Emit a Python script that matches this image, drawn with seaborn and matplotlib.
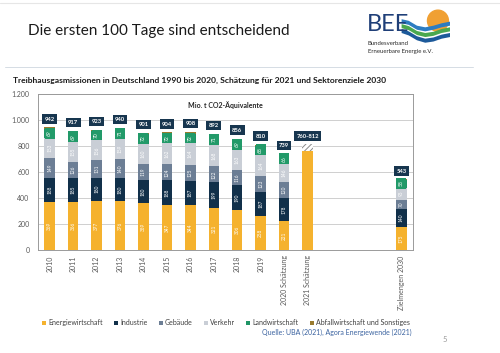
#!/usr/bin/env python3

import numpy as np
import pandas as pd
from matplotlib import pyplot as plt
from matplotlib.patches import Patch, Ellipse
import seaborn as sns

# Werte in Mio. t CO2-Aequivalente
years = ['2010', '2011', '2012', '2013', '2014', '2015', '2016', '2017', '2018', '2019',
         '2020 Schätzung', '2021 Schätzung', 'Zielmengen 2030']
energie = [369, 366, 377, 376, 359, 347, 344, 321, 306, 258, 221, 760, 175]
industrie = [188, 185, 180, 180, 180, 188, 187, 199, 190, 187, 178, 0, 140]
gebaeude = [149, 126, 131, 140, 119, 124, 125, 122, 116, 123, 120, 0, 70]
verkehr = [153, 155, 156, 159, 160, 162, 164, 168, 163, 164, 146, 0, 95]
landwirtschaft = [69, 69, 70, 71, 72, 72, 72, 71, 69, 68, 66, 0, 58]
abfall = [14, 16, 9, 14, 11, 11, 16, 11, 12, 10, 8, 0, 5]
totals = [942, 917, 923, 940, 901, 904, 908, 892, 856, 810, 739, None, 543]
est_2021_low = 760
est_2021_high = 812

sectors = ['Energiewirtschaft', 'Industrie', 'Gebäude', 'Verkehr',
           'Landwirtschaft', 'Abfallwirtschaft und Sonstiges']
colors = ['#F5B22E', '#11304A', '#6C7E95', '#C9CED6', '#1F9566', '#9A7B2E']

# Kategorien inkl. drei leerer Plaetze vor 2030
slots = years[:12] + ['_a', '_b', '_c'] + years[12:]

df = pd.DataFrame({
    'jahr': years,
    'Energiewirtschaft': energie,
    'Industrie': industrie,
    'Gebäude': gebaeude,
    'Verkehr': verkehr,
    'Landwirtschaft': landwirtschaft,
    'Abfallwirtschaft und Sonstiges': abfall,
})
cum = df[sectors].cumsum(axis=1)
bottoms = cum - df[sectors]

sns.set_style('white')
plt.rcParams['font.family'] = ['Lato', 'DejaVu Sans']
plt.rcParams['hatch.linewidth'] = 0.7

fig = plt.figure(figsize=(5, 3.53), dpi=100)
ax = fig.add_axes([0.076, 0.292, 0.75, 0.442])

# gestapelte Balken: kumulierte Summen von oben nach unten uebermalen
for sec, col in reversed(list(zip(sectors, colors))):
    plot_df = pd.DataFrame({'jahr': df['jahr'], 'wert': cum[sec]})
    sns.barplot(data=plot_df, x='jahr', y='wert', order=slots, color=col,
                saturation=1, width=0.45, errorbar=None, linewidth=0,
                edgecolor='none', ax=ax)

# Schaetzspanne 2021
i21 = slots.index('2021 Schätzung')
ax.bar(i21, est_2021_high - est_2021_low, bottom=est_2021_low, width=0.45,
       color='white', hatch='//////', edgecolor='#8a8a8a', linewidth=0, zorder=2)

box_navy = dict(boxstyle='square,pad=0.4', fc='#17364F', ec='none')
box_green = dict(boxstyle='square,pad=0.5', fc='#229A69', ec='none')

# Beschriftungen
for r, name in enumerate(years):
    i = slots.index(name)
    if name == '2021 Schätzung':
        ax.text(i, est_2021_high + 64, f'{est_2021_low}-{est_2021_high}', ha='center',
                va='center', fontsize=4.2, color='white', weight='bold', bbox=box_navy)
        continue
    for sec in sectors[:4]:
        v = df.loc[r, sec]
        ax.text(i, bottoms.loc[r, sec] + v / 2, str(v), rotation=90, ha='center',
                va='center', fontsize=3.4, color='white')
    v = df.loc[r, 'Landwirtschaft']
    ax.text(i, bottoms.loc[r, 'Landwirtschaft'] + v / 2 + 4, str(v), rotation=90,
            ha='center', va='center', fontsize=3.6, color='white', bbox=box_green)
    ax.text(i, totals[r] + 64, str(totals[r]), ha='center', va='center',
            fontsize=4.2, color='white', weight='bold', bbox=box_navy)

ax.set_xlim(-0.5, len(slots) - 0.5)
ax.set_ylim(0, 1200)
yt = np.arange(0, 1201, 200)
ax.set_yticks(yt)
ax.set_yticklabels([f'{v:,}'.replace(',', '.') for v in yt])
ax.set_xticks(range(len(slots)))
ax.set_xticklabels([s if not s.startswith('_') else '' for s in slots], rotation=90)
ax.set_xticks(np.arange(-0.5, len(slots), 1), minor=True)
ax.tick_params(axis='x', which='major', length=0, pad=4, labelsize=5, labelcolor='#595959')
ax.tick_params(axis='x', which='minor', length=2.5, width=0.6, color='#8c8c8c', direction='out')
ax.tick_params(axis='y', length=0, pad=6, labelsize=5, labelcolor='#595959')
ax.set_xlabel('')
ax.set_ylabel('')
ax.yaxis.grid(True, color='#c8c8c8', linewidth=0.6)
ax.set_axisbelow(True)
for s in ax.spines.values():
    s.set_color('#9a9a9a')
    s.set_linewidth(0.7)

ax.text(0.5, 0.955, 'Mio. t CO2-Äquivalente', transform=ax.transAxes, ha='center',
        va='top', fontsize=5, weight='bold', color='#262626')

handles = [Patch(facecolor=c, edgecolor='none', label=s) for s, c in zip(sectors, colors)]
fig.legend(handles=handles, loc='center', bbox_to_anchor=(0.452, 0.085), ncol=6,
           frameon=False, fontsize=5, handlelength=0.55, handleheight=0.55,
           handletextpad=0.35, columnspacing=1.6, labelcolor='#404040')

# Folienelemente
fig.text(0.056, 0.912, 'Die ersten 100 Tage sind entscheidend', fontsize=11,
         color='#1a1a1a', va='center')
fig.text(0.026, 0.773, 'Treibhausgasmissionen in Deutschland 1990 bis 2020, '
         'Schätzung für 2021 und Sektorenziele 2030', fontsize=6.1, weight='bold',
         color='#1a1a1a', va='center')
fig.text(0.824, 0.057, 'Quelle: UBA (2021), Agora Energiewende (2021)', fontsize=5,
         color='#3b63a0', ha='right', va='center')
fig.text(0.89, 0.037, '5', fontsize=5.5, color='#9a9a9a', ha='center', va='center')
fig.add_artist(plt.Line2D([0.0, 1.0], [0.992, 0.992], color='#e6e6e6', lw=0.8))
fig.add_artist(plt.Line2D([0.01, 0.946], [0.81, 0.81], color='#d5dce4', lw=0.7))

# BEE Logo
fig.text(0.733, 0.93, 'BEE', fontsize=17, color='#1f3f78', va='center', ha='left')
fig.text(0.736, 0.878, 'Bundesverband', fontsize=4.3, color='#2b2b2b', va='center')
fig.text(0.736, 0.853, 'Erneuerbare Energie e.V.', fontsize=4.3, color='#2b2b2b', va='center')
lax = fig.add_axes([0.80, 0.87, 0.11, 0.115])
lax.set_xlim(0, 1)
lax.set_ylim(0, 1)
lax.axis('off')
lax.add_patch(Ellipse((0.69, 0.62), 0.38, 0.52, color='#f0a033', zorder=1))
wx = np.array([0.02, 0.15, 0.3, 0.45, 0.6, 0.75, 0.9])
bands = [([0.62, 0.58, 0.46, 0.42, 0.46, 0.52, 0.56], '#2d7cc1'),
         ([0.50, 0.45, 0.33, 0.28, 0.31, 0.38, 0.42], '#4aa84f'),
         ([0.38, 0.32, 0.2, 0.14, 0.17, 0.24, 0.28], '#1d5a9a')]
for wy, wc in bands:
    wy = np.array(wy)
    lax.fill_between(wx, wy - 0.05, wy + 0.05, color=wc, linewidth=0, zorder=2)

plt.savefig('out.png', dpi=100)
